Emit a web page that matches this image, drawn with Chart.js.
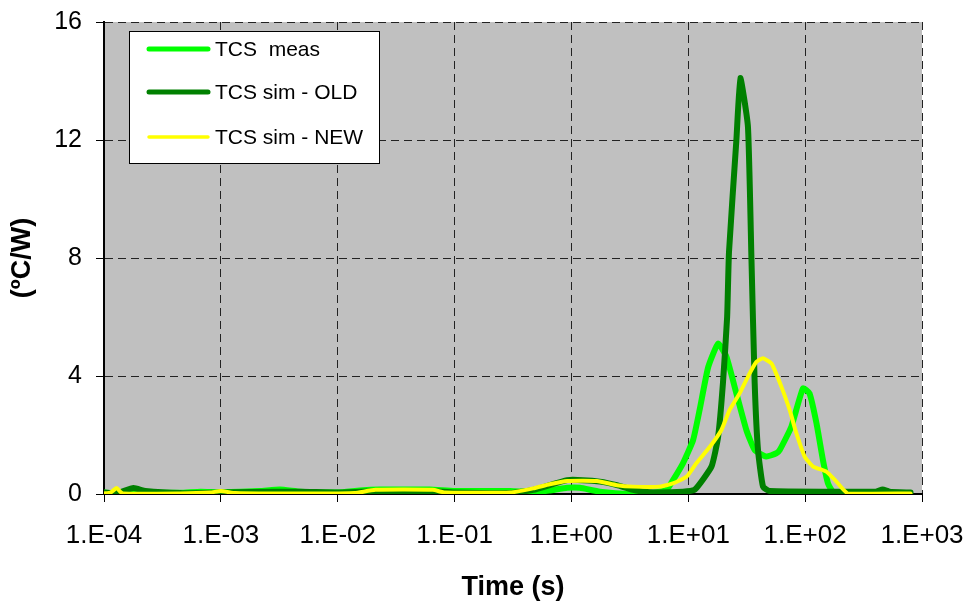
<!DOCTYPE html>
<html>
<head>
<meta charset="utf-8">
<script src="https://cdn.jsdelivr.net/npm/chart.js@4.4.1/dist/chart.umd.min.js"></script>
<style>
  html, body { margin: 0; padding: 0; background: #fff; }
  canvas { display: block; }
</style>
</head>
<body>
<canvas id="myChart" width="970" height="601"></canvas>
<script>
// tick labels for the log time axis (decades)
var tickValues = [1e-4, 1e-3, 1e-2, 1e-1, 1, 10, 100, 1000];
var tickLabels = ['1.E-04', '1.E-03', '1.E-02', '1.E-01', '1.E+00', '1.E+01', '1.E+02', '1.E+03'];

// TCS meas
var measTime = [1e-4, 1.28e-4, 2.5e-4, 4.5e-4, 6.7e-4, 1e-3, 2.15e-3, 3.2e-3, 4.8e-3, 1e-2, 1.55e-2, 2.3e-2, 6.1e-2, 0.1, 0.3,
  0.47, 0.65, 0.92, 1.18, 1.75, 3.36, 4.7, 6.5, 7.4, 9.0, 11.0, 12.5, 14.8, 18.0, 21.2, 25.8, 31.4, 37.0, 46.6, 56.7,
  60.6, 76.2, 95.8, 109, 125, 142, 157, 179, 790];
var measVal = [0.05, 0.03, 0.05, 0.04, 0.08, 0.06, 0.1, 0.15, 0.08, 0.05, 0.12, 0.15, 0.15, 0.1, 0.1,
  0.06, 0.12, 0.21, 0.21, 0.08, 0.0, 0.02, 0.14, 0.47, 1.04, 1.83, 2.85, 4.3, 5.1, 4.65, 3.41, 2.17, 1.49, 1.27, 1.38,
  1.49, 2.28, 3.58, 3.41, 2.4, 1.15, 0.36, 0.02, 0.02];

// TCS sim - OLD
var oldTime = [1e-4, 1.28e-4, 1.79e-4, 2.26e-4, 4.5e-4, 1e-3, 1.79e-3, 4.8e-3, 1e-2, 2.3e-2, 3.4e-2, 6.1e-2, 0.1, 0.3,
  0.47, 0.92, 1.25, 1.75, 2.45, 3.36, 4.7, 9.0, 11.4, 15.8, 18.0, 19.8, 21.5, 22.3, 25.8, 27.9, 32.4, 34.7, 37.0,
  39.5, 43.6, 49.7, 400, 460, 527, 798];
var oldVal = [0.05, 0.03, 0.2, 0.1, 0.03, 0.05, 0.07, 0.08, 0.05, 0.1, 0.08, 0.1, 0.05, 0.03,
  0.14, 0.47, 0.47, 0.42, 0.3, 0.14, 0.06, 0.08, 0.15, 0.93, 1.94, 3.76, 6.0, 8.2, 12.0, 14.1, 12.45, 8.0, 3.76,
  1.49, 0.25, 0.1, 0.08, 0.15, 0.08, 0.05];

// TCS sim - NEW
var newTime = [1e-4, 1.14e-4, 1.28e-4, 1.44e-4, 4.5e-4, 8.1e-4, 1e-3, 1.33e-3, 2.15e-3, 4.8e-3, 1e-2, 1.4e-2, 2.1e-2,
  6.5e-2, 8.3e-2, 0.3, 0.47, 0.65, 0.92, 1.65, 2.45, 3.36, 5.7, 7.4, 9.7, 11.7, 15.3, 19.2, 22.6, 27.5, 33.5, 38.3,
  43.6, 51.4, 54.9, 62.6, 73.7, 84.1, 99, 117, 152, 185, 232, 798];
var newVal = [0.02, 0.05, 0.2, 0.02, 0.02, 0.05, 0.1, 0.03, 0.02, 0.02, 0.02, 0.03, 0.14,
  0.14, 0.05, 0.05, 0.19, 0.33, 0.44, 0.44, 0.3, 0.25, 0.25, 0.36, 0.59, 1.04, 1.6, 2.17, 2.85, 3.41, 4.09, 4.48,
  4.6, 4.43, 4.2, 3.64, 2.85, 2.06, 1.27, 0.93, 0.76, 0.42, 0.02, 0.02];

function pairs(xs, ys) {
  return xs.map(function (x, i) { return { x: x, y: ys[i] }; });
}

var FONT = "'Liberation Sans', Arial, sans-serif";

var legendItems = [
  { text: 'TCS  meas', color: '#00FF00', width: 5 },
  { text: 'TCS sim - OLD', color: '#008000', width: 5 },
  { text: 'TCS sim - NEW', color: '#FFFF00', width: 3.5 }
];

var plotBackground = {
  id: 'plotBackground',
  beforeDraw: function (chart) {
    var a = chart.chartArea, ctx = chart.ctx;
    ctx.save();
    ctx.fillStyle = '#C0C0C0';
    ctx.fillRect(a.left, a.top, a.right - a.left, a.bottom - a.top);
    ctx.restore();
  }
};

var boxLegend = {
  id: 'boxLegend',
  afterDraw: function (chart) {
    var ctx = chart.ctx;
    ctx.save();
    ctx.fillStyle = '#fff';
    ctx.fillRect(129.5, 31.5, 250, 132);
    ctx.strokeStyle = '#000';
    ctx.lineWidth = 1;
    ctx.strokeRect(129.5, 31.5, 250, 132);
    var rows = [49, 92, 137];
    ctx.font = '21px ' + FONT;
    ctx.textBaseline = 'middle';
    legendItems.forEach(function (it, i) {
      ctx.beginPath();
      ctx.lineCap = 'round';
      ctx.lineWidth = it.width;
      ctx.strokeStyle = it.color;
      ctx.moveTo(149, rows[i]);
      ctx.lineTo(208, rows[i]);
      ctx.stroke();
      ctx.fillStyle = '#000';
      ctx.fillText(it.text, 215, rows[i] + 1);
    });
    ctx.restore();
  }
};

var lineStyle = { pointRadius: 0, fill: false, tension: 0.15, borderJoinStyle: 'round', borderCapStyle: 'round' };

var gridOpts = {
  color: '#222',
  lineWidth: 1,
  tickLength: 8,
  tickColor: '#000',
  tickBorderDash: []
};

var chart = new Chart(document.getElementById('myChart'), {
  type: 'line',
  data: {
    datasets: [
      Object.assign({ label: 'TCS  meas', data: pairs(measTime, measVal), borderColor: '#00FF00', borderWidth: 6, order: 3 }, lineStyle),
      Object.assign({ label: 'TCS sim - OLD', data: pairs(oldTime, oldVal), borderColor: '#008000', borderWidth: 6, order: 2 }, lineStyle),
      Object.assign({ label: 'TCS sim - NEW', data: pairs(newTime, newVal), borderColor: '#FFFF00', borderWidth: 4, order: 1 }, lineStyle)
    ]
  },
  options: {
    responsive: false,
    animation: false,
    devicePixelRatio: 1,
    layout: { padding: { top: 22, right: 48, left: 0, bottom: 0 } },
    plugins: { legend: { display: false }, tooltip: { enabled: false } },
    scales: {
      x: {
        type: 'logarithmic',
        min: 1e-4,
        max: 1e3,
        afterBuildTicks: function (scale) {
          scale.ticks = tickValues.map(function (v) { return { value: v }; });
        },
        afterFit: function (scale) {
          scale.height = 107;
          scale.paddingLeft = 0;
          scale.paddingRight = 0;
        },
        ticks: {
          autoSkip: false,
          maxRotation: 0,
          padding: 18,
          color: '#000',
          font: { family: FONT, size: 26 },
          callback: function (v) {
            var i = tickValues.indexOf(v);
            return i >= 0 ? tickLabels[i] : '';
          }
        },
        grid: gridOpts,
        border: { color: '#000', width: 2, dash: [8, 5] },
        title: { display: true, text: 'Time (s)', color: '#000', padding: { top: 0, bottom: 1 }, font: { family: FONT, size: 27, weight: 'bold', lineHeight: 0.9 } }
      },
      y: {
        min: 0,
        max: 16,
        afterFit: function (scale) {
          scale.width = 104;
          scale.paddingTop = 0;
          scale.paddingBottom = 0;
        },
        ticks: {
          stepSize: 4,
          padding: 14,
          color: '#000',
          font: { family: FONT, size: 25 }
        },
        grid: gridOpts,
        border: { color: '#000', width: 2, dash: [8, 5] },
        title: { display: true, text: '(ºC/W)', color: '#000', padding: { top: 10, bottom: 0 }, font: { family: FONT, size: 27, weight: 'bold', lineHeight: 0.9 } }
      }
    }
  },
  plugins: [plotBackground, boxLegend]
});
</script>
</body>
</html>
